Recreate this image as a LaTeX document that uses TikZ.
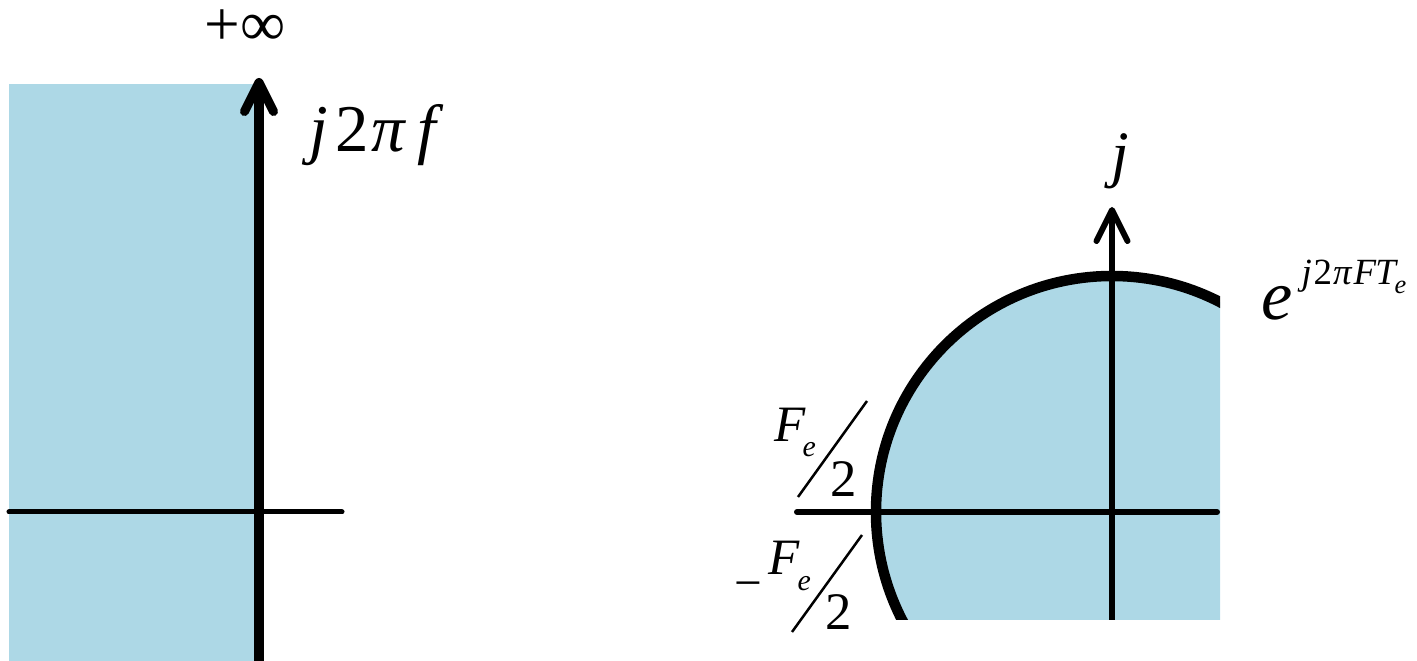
\documentclass[tikz,border=0pt]{standalone}
\usepackage{fontspec}
\setmainfont{Liberation Serif}
\usetikzlibrary{arrows.meta}
\definecolor{planeblue}{HTML}{ADD8E6}

\begin{document}
\begin{tikzpicture}[x=0.01cm, y=-0.01cm,
  axisline/.style={line cap=round},
  axisarrow/.style={line cap=round, -{Straight Barb[length=#1, width=#1, round]}},
  lbl/.style={inner sep=0pt, anchor=base west},
  slash/.style={line width=0.025cm}
]
\useasboundingbox (0,0) rectangle (1417,661);

% left: s-plane, half plane
\fill[planeblue] (9,84) rectangle (259,661);
\coordinate (lh0) at (9,512);
\coordinate (lh1) at (342,512);
\coordinate (lv0) at (259,670);
\coordinate (lv1) at (259,78);
\draw[axisline, line width=0.05cm] (lh0) -- (lh1);
\draw[axisarrow=2.9mm, line width=0.09cm] (lv0) -- (lv1);
\node[inner sep=0pt, font=\rmfamily\fontsize{18}{18}\selectfont] (inf) at (245,28) {+∞};
\node[lbl, font=\rmfamily\fontsize{19}{19}\selectfont] (jw) at (309,152)
  {\textit{j}\kern2pt 2\kern0.8pt\textit{π}\kern3pt\textit{f}};

% right: z-plane, disc
\begin{scope}
  \clip (700,150) rectangle (1220,620);
  \fill[planeblue] (1112,512) circle (236);
  \draw[line width=0.105cm] (1112,512) circle (236);
\end{scope}
\coordinate (rh0) at (797,512);
\coordinate (rh1) at (1217,512);
\coordinate (rv0) at (1112,620);
\coordinate (rv1) at (1112,207);
\draw[line width=0.06cm, line cap=round] (rh0) -- (rh1);
\draw[axisarrow=3.1mm, line width=0.06cm, line cap=butt] (rv0) -- (rv1);
\node[inner sep=0pt, font=\rmfamily\fontsize{18}{18}\selectfont] (jlbl) at (1120,161) {\textit{j}};
\node[lbl, font=\rmfamily\fontsize{20}{20}\selectfont] (expo) at (1261,320) {\textit{e}};
\node[lbl, font=\rmfamily\fontsize{10.5}{10.5}\selectfont] (expsup) at (1301,285)
  {\textit{j}\kern0.5pt 2\kern0.3pt\textit{π}\kern0.3pt\textit{F}\kern-0.3pt\textit{T}\kern-1pt\raisebox{-2.5pt}{\fontsize{7.5}{7.5}\selectfont\textit{e}}};

% +Fe/2
\node[lbl, font=\rmfamily\fontsize{14.5}{14.5}\selectfont] (fup) at (774,442) {\textit{F}};
\node[lbl, font=\rmfamily\fontsize{8.5}{8.5}\selectfont] (eup) at (802,457) {\textit{e}};
\node[lbl, font=\rmfamily\fontsize{15}{15}\selectfont] (twoup) at (830,497) {2};
\coordinate (sup0) at (798,497);
\coordinate (sup1) at (867,401);
\draw[slash] (sup0) -- (sup1);

% -Fe/2
\node[inner sep=0pt, font=\rmfamily\fontsize{14}{14}\selectfont] (minus) at (748,591) {−};
\node[lbl, font=\rmfamily\fontsize{14.5}{14.5}\selectfont] (fdn) at (768,575) {\textit{F}};
\node[lbl, font=\rmfamily\fontsize{8.5}{8.5}\selectfont] (edn) at (797,591) {\textit{e}};
\node[lbl, font=\rmfamily\fontsize{15}{15}\selectfont] (twodn) at (825,630) {2};
\coordinate (sdn0) at (792,632);
\coordinate (sdn1) at (862,535);
\draw[slash] (sdn0) -- (sdn1);
\end{tikzpicture}
\end{document}
